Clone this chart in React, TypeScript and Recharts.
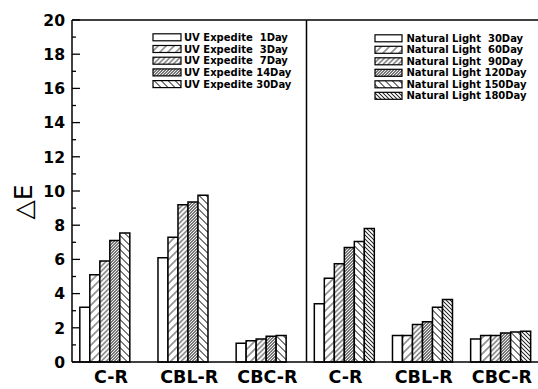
import React from 'react';
import { BarChart, Bar, XAxis, YAxis, ReferenceLine, Label } from 'recharts';

const groups = ['C-R', 'CBL-R', 'CBC-R'];

// UV accelerated exposure
const uvNames = ['UV Expedite  1Day', 'UV Expedite  3Day', 'UV Expedite  7Day', 'UV Expedite 14Day', 'UV Expedite 30Day'];
const uv1Day = [3.2, 6.1, 1.1];
const uv3Day = [5.1, 7.3, 1.25];
const uv7Day = [5.9, 9.2, 1.35];
const uv14Day = [7.1, 9.35, 1.5];
const uv30Day = [7.55, 9.75, 1.55];

// natural light exposure
const nlNames = [
  'Natural Light  30Day',
  'Natural Light  60Day',
  'Natural Light  90Day',
  'Natural Light 120Day',
  'Natural Light 150Day',
  'Natural Light 180Day',
];
const nl30Day = [3.4, 1.55, 1.35];
const nl60Day = [4.9, 1.55, 1.55];
const nl90Day = [5.75, 2.2, 1.55];
const nl120Day = [6.7, 2.35, 1.7];
const nl150Day = [7.05, 3.2, 1.75];
const nl180Day = [7.8, 3.65, 1.8];

const yTicks = [0, 1, 2, 3, 4, 5, 6, 7, 8, 9, 10, 11, 12, 13, 14, 15, 16, 17, 18, 19, 20];

const uvValues = [uv1Day, uv3Day, uv7Day, uv14Day, uv30Day];
const nlValues = [nl30Day, nl60Day, nl90Day, nl120Day, nl150Day, nl180Day];

// each group has six bar slots: s0..s5 (UV groups leave s5 empty)
const toRow = (prefix: string, series: number[][]) => (g: string, i: number) => {
  const row: any = { id: `${prefix}-${g}`, name: g };
  series.forEach((vals, k) => (row[`s${k}`] = vals[i]));
  return row;
};
const rows = [...groups.map(toRow('uv', uvValues)), ...groups.map(toRow('nl', nlValues))];
const nameById: Record<string, string> = Object.fromEntries(rows.map((r) => [r.id, r.name]));

// hatch per slot: angle of the lines and horizontal spacing
const hatches = [
  { angle: 0, step: 0 },
  { angle: 45, step: 8 },
  { angle: 45, step: 5 },
  { angle: 45, step: 3 },
  { angle: -45, step: 7 },
  { angle: -45, step: 4 },
];

const font = '"DejaVu Sans", Verdana, sans-serif';

const YTick = ({ x, y, payload }: any) => {
  const v = payload.value;
  const major = v % 2 === 0;
  return (
    <g>
      <line x1={x} x2={x + (major ? 8 : 4)} y1={y} y2={y} stroke="#000" strokeWidth={1.3} />
      {major && (
        <text x={x - 7} y={y} dy={5.7} textAnchor="end" fontSize={15.6} fontWeight="bold" fill="#000" fontFamily={font}>
          {v}
        </text>
      )}
    </g>
  );
};

const XTick = ({ x, y, payload }: any) => (
  <text x={x} y={y} dy={21} textAnchor="middle" fontSize={17.5} fontWeight="bold" fill="#000" fontFamily={font}>
    {nameById[payload.value]}
  </text>
);

const Swatch = ({ x, y, w, k }: any) => (
  <rect x={x} y={y - 3.5} width={w} height={7} fill={`url(#hatch${k})`} stroke="#000" strokeWidth={1.2} />
);

export default function App() {
  return (
    <div style={{ position: 'absolute', left: 0, top: 0, width: 538, height: 389, overflow: 'hidden', background: '#fff' }}>
      <BarChart
        width={544}
        height={389}
        data={rows}
        margin={{ top: 20, right: 3, bottom: 0, left: 0 }}
        barCategoryGap="10%"
        barGap={0}
      >
        <XAxis
          dataKey="id"
          height={27}
          axisLine={{ stroke: '#000', strokeWidth: 1.5 }}
          tickLine={false}
          tickSize={0}
          tickMargin={0}
          tick={<XTick />}
          interval={0}
        />
        <YAxis
          width={72}
          domain={[0, 20]}
          ticks={yTicks}
          interval={0}
          axisLine={{ stroke: '#000', strokeWidth: 1.5 }}
          tickLine={false}
          tickSize={0}
          tickMargin={0}
          tick={<YTick />}
        >
          <Label
            content={() => (
              <text
                transform="translate(31.5,202) rotate(-90)"
                textAnchor="middle"
                fontSize={25}
                fill="#000"
                fontFamily='"DejaVu Sans", sans-serif'
              >
                △E
              </text>
            )}
          />
        </YAxis>
        <ReferenceLine y={20} stroke="#000" strokeWidth={1.5} />
        <ReferenceLine x="nl-C-R" position="start" stroke="#000" strokeWidth={1.5} />
        {hatches.map((_, k) => (
          <Bar
            key={k}
            dataKey={`s${k}`}
            fill={`url(#hatch${k})`}
            stroke="#000"
            strokeWidth={1.5}
            isAnimationActive={false}
          />
        ))}
      </BarChart>

      <svg width={538} height={389} style={{ position: 'absolute', left: 0, top: 0, pointerEvents: 'none' }}>
        <defs>
          {hatches.map((h, k) => {
            const gap = h.step / Math.SQRT2;
            return (
              <pattern
                key={k}
                id={`hatch${k}`}
                patternUnits="userSpaceOnUse"
                width={gap || 10}
                height={10}
                patternTransform={`rotate(${h.angle})`}
              >
                <rect width={gap || 10} height={10} fill="#fff" />
                {h.step > 0 && <line x1={gap / 2} x2={gap / 2} y1={0} y2={10} stroke="#000" strokeWidth={0.8} />}
              </pattern>
            );
          })}
        </defs>
        <g fontFamily={font} fontSize={10} fontWeight="bold" fill="#000">
          {uvNames.map((n, k) => (
            <g key={n}>
              <Swatch x={153} y={37.3 + 11.7 * k} w={28} k={k} />
              <text x={184} y={37.3 + 11.7 * k + 3.6} xmlSpace="preserve" style={{ whiteSpace: 'pre' }}>
                {n}
              </text>
            </g>
          ))}
          {nlNames.map((n, k) => (
            <g key={n}>
              <Swatch x={375} y={38.3 + 11.5 * k} w={27} k={k} />
              <text x={406.5} y={38.3 + 11.5 * k + 3.6} xmlSpace="preserve" style={{ whiteSpace: 'pre' }}>
                {n}
              </text>
            </g>
          ))}
        </g>
      </svg>
    </div>
  );
}
